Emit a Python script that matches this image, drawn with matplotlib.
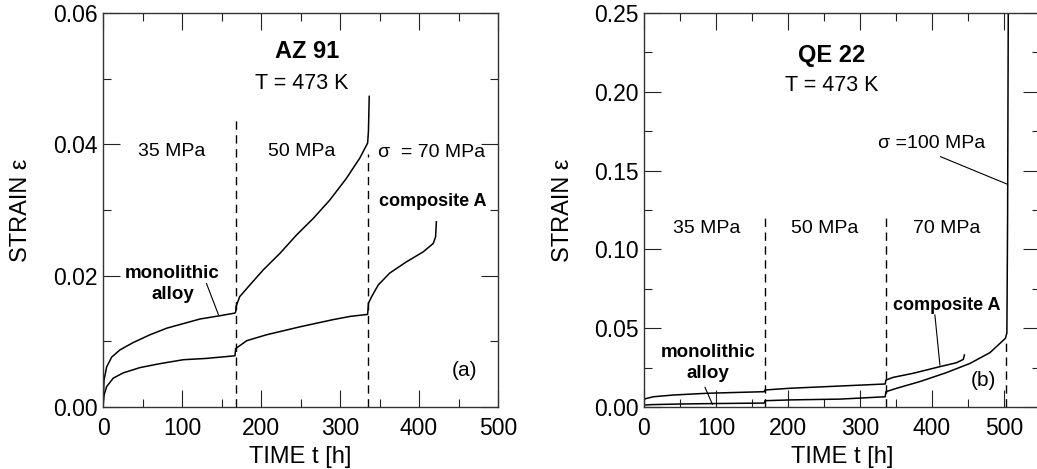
import matplotlib
matplotlib.use("Agg")
import matplotlib.pyplot as plt
from matplotlib.ticker import MultipleLocator, FormatStrFormatter

plt.rcParams['font.family'] = ['Liberation Sans', 'DejaVu Sans']

# AZ 91 (panel a), T = 473 K
az_mono_t = [0, 1.3, 4.6, 11, 21.5, 38, 59.5, 80.6, 101.7, 122.8, 148, 167,
             168, 168.4, 173, 186, 203, 224, 245, 266, 287, 308, 325, 335, 336, 337]
az_mono_e = [0, 0.0041, 0.0061, 0.0076, 0.0087, 0.0098, 0.011, 0.012, 0.0127, 0.0134, 0.0139, 0.0143,
             0.0145, 0.0153, 0.0168, 0.0186, 0.0209, 0.0234, 0.0262, 0.0287, 0.0315, 0.0348, 0.0379, 0.0402, 0.042, 0.0473]
az_comp_t = [0, 1.3, 4.6, 13, 25.7, 46.8, 72, 101.7, 131, 167,
             168, 182, 207, 249, 291, 313, 335,
             336, 340, 348.5, 363, 384, 405, 418, 421, 422]
az_comp_e = [0, 0.0018, 0.0031, 0.0044, 0.0052, 0.006, 0.0066, 0.0072, 0.0074, 0.0078,
             0.0089, 0.0101, 0.011, 0.0122, 0.0133, 0.0138, 0.0141,
             0.0158, 0.0168, 0.0186, 0.0204, 0.0221, 0.0236, 0.0249, 0.0259, 0.0282]

# QE 22 (panel b), T = 473 K
qe_mono_t = [0, 10, 50, 100, 167, 168, 203, 272, 335, 336, 351, 383, 420, 453, 480.5, 502, 504, 505, 506]
qe_mono_e = [0.0012, 0.0015, 0.0019, 0.0022, 0.0025, 0.004, 0.0045, 0.005, 0.0065, 0.0097, 0.0119,
             0.0161, 0.0218, 0.0277, 0.0345, 0.0436, 0.047, 0.12, 0.26]
qe_comp_t = [0, 1.4, 13, 40.7, 87, 133, 167, 168, 203, 272, 335, 336, 346, 374, 411, 434, 443.5, 445]
qe_comp_e = [0.004, 0.0052, 0.0065, 0.0076, 0.0087, 0.0093, 0.0097, 0.0108, 0.0119, 0.0133, 0.0146,
             0.0171, 0.0188, 0.0214, 0.0256, 0.0281, 0.0302, 0.033]

az_steps = [168, 336]
az_step_tops = [0.044, 0.0386]
qe_steps = [168, 336, 503]
qe_step_tops = [0.123, 0.123, 0.0437]

fig = plt.figure(figsize=(10.37, 4.69), dpi=100)
ax1 = fig.add_axes([103 / 1037, 1 - 407 / 469, 395 / 1037, 394 / 469])
ax2 = fig.add_axes([644 / 1037, 1 - 407 / 469, 396 / 1037, 394 / 469])


def style_axes(ax, xmax, ymax, ymaj, ymin, yfmt):
    ax.set_xlim(0, xmax)
    ax.set_ylim(0, ymax)
    ax.xaxis.set_major_locator(MultipleLocator(100))
    ax.xaxis.set_minor_locator(MultipleLocator(50))
    ax.yaxis.set_major_locator(MultipleLocator(ymaj))
    ax.yaxis.set_minor_locator(MultipleLocator(ymin))
    ax.yaxis.set_major_formatter(FormatStrFormatter(yfmt))
    ax.tick_params(which='both', direction='in', top=True, right=True, width=0.8, colors='#222222')
    ax.tick_params(which='major', length=12, labelsize=16.5, labelcolor='black')
    ax.tick_params(axis='x', which='major', pad=7)
    ax.tick_params(axis='y', which='major', pad=4)
    ax.tick_params(which='minor', length=6)
    for s in ax.spines.values():
        s.set_linewidth(1.0)
        s.set_color('#333333')
    ax.set_xlabel('TIME t [h]', fontsize=17)
    ax.set_ylabel('STRAIN ε', fontsize=17)
    ax.xaxis.set_label_coords(0.5, -0.098)
    ax.yaxis.set_label_coords(-0.18, 0.5)


style_axes(ax1, 500, 0.06, 0.02, 0.01, '%.2f')
style_axes(ax2, 550, 0.25, 0.05, 0.025, '%.2f')
ax2.yaxis.set_label_coords(-0.177, 0.5)

lw = 1.1
ax1.plot(az_mono_t, az_mono_e, color='black', lw=lw)
ax1.plot(az_comp_t, az_comp_e, color='black', lw=lw)
for x, top in zip(az_steps, az_step_tops):
    ax1.plot([x, x], [0, top], color='black', lw=1.0, dashes=(6, 4))

ax2.plot(qe_mono_t, qe_mono_e, color='black', lw=lw)
ax2.plot(qe_comp_t, qe_comp_e, color='black', lw=lw)
for x, top in zip(qe_steps, qe_step_tops):
    ax2.plot([x, x], [0, top], color='black', lw=1.0, dashes=(6, 4))

# panel a texts
ax1.text(258, 0.0541, 'AZ 91', fontsize=17, fontweight='bold', ha='center', va='center')
ax1.text(251.5, 0.0493, 'T = 473 K', fontsize=15.5, ha='center', va='center')
ax1.text(87, 0.0389, '35 MPa', fontsize=14, ha='center', va='center')
ax1.text(251.5, 0.0389, '50 MPa', fontsize=14, ha='center', va='center')
ax1.text(416, 0.0387, 'σ  = 70 MPa', fontsize=14, ha='center', va='center')
ax1.text(418, 0.0313, 'composite A', fontsize=13, fontweight='bold', ha='center', va='center')
ax1.text(88, 0.0203, 'monolithic', fontsize=13.5, fontweight='bold', ha='center', va='center')
ax1.text(88, 0.0172, 'alloy', fontsize=13.5, fontweight='bold', ha='center', va='center')
ax1.text(457, 0.0056, '(a)', fontsize=15, ha='center', va='center')
ax1.plot([131, 146], [0.0188, 0.0141], color='black', lw=0.8)

# panel b texts
ax2.text(260.6, 0.2233, 'QE 22', fontsize=17, fontweight='bold', ha='center', va='center')
ax2.text(260.6, 0.2043, 'T = 473 K', fontsize=15.5, ha='center', va='center')
ax2.text(87, 0.1134, '35 MPa', fontsize=14, ha='center', va='center')
ax2.text(251.4, 0.1134, '50 MPa', fontsize=14, ha='center', va='center')
ax2.text(420.4, 0.1134, '70 MPa', fontsize=14, ha='center', va='center')
ax2.text(399.5, 0.1673, 'σ =100 MPa', fontsize=14, ha='center', va='center')
ax2.text(420, 0.0647, 'composite A', fontsize=13, fontweight='bold', ha='center', va='center')
ax2.text(89, 0.0345, 'monolithic', fontsize=13.5, fontweight='bold', ha='center', va='center')
ax2.text(89, 0.0214, 'alloy', fontsize=13.5, fontweight='bold', ha='center', va='center')
ax2.text(471, 0.0171, '(b)', fontsize=15, ha='center', va='center')
ax2.plot([412, 505], [0.1588, 0.1413], color='black', lw=0.8)
ax2.plot([404, 411], [0.0584, 0.0266], color='black', lw=0.8)
ax2.plot([84.7, 95], [0.0125, 0.0017], color='black', lw=0.8)

fig.savefig('out.png', dpi=100)
